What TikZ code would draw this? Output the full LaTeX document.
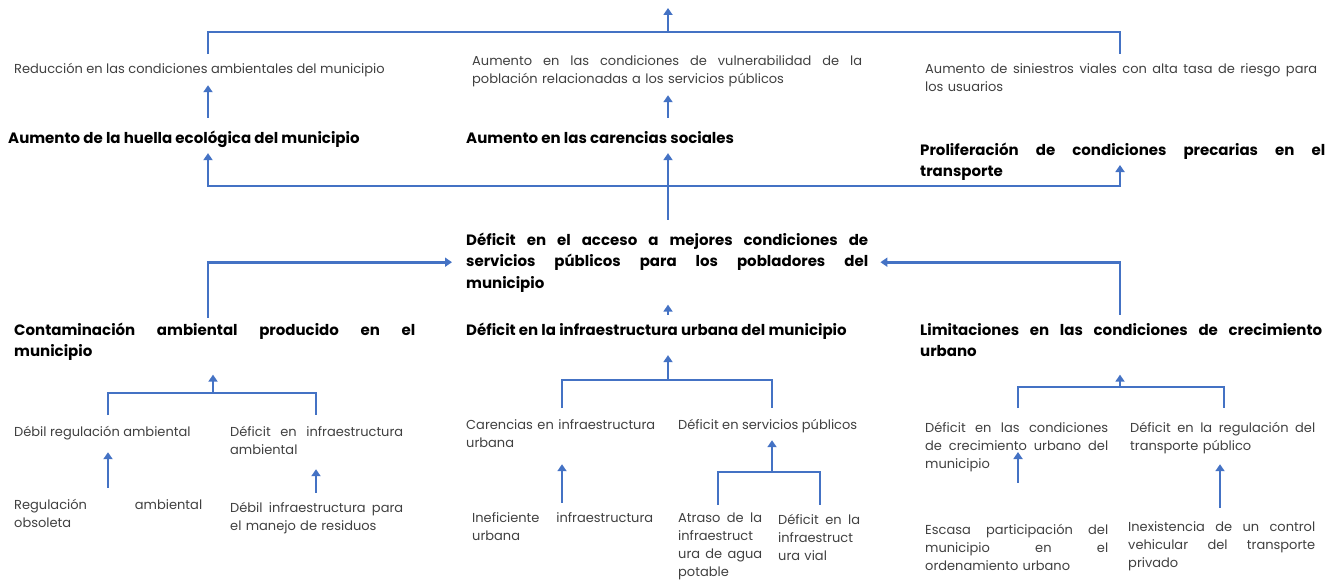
\documentclass[tikz,border=0pt]{standalone}
\usepackage{fontspec}
\setmainfont{Poppins}
\usetikzlibrary{arrows.meta}
\definecolor{linkblue}{RGB}{68,114,196}
\definecolor{txtgray}{RGB}{64,64,64}
\newcommand{\jl}[1]{{\spaceskip=0pt\xspaceskip=0pt\makebox[\hsize][s]{#1}}}
\tikzset{
  cause/.style={anchor=base west, inner sep=0pt, align=left, text=txtgray,
    font=\fontsize{13}{18}\selectfont,
    execute at begin node=\strut, execute at end node=\strut},
  causebold/.style={cause, text=black, font=\fontsize{15}{21.5}\selectfont\bfseries},
  link/.style={draw=linkblue, line width=2.8pt},
  arr/.style={link, -{Triangle[width=9pt,length=7pt]}},
}
\begin{document}
\begin{tikzpicture}[x=1pt, y=-1pt]
    \useasboundingbox (0,0) rectangle (1333,583);

    % 1. efectos (fila superior)
    \node[cause] (reduc) at (14,74) {Reducción en las condiciones ambientales del municipio};
    \node[cause, text width=390pt] (vuln) at (472,66) {\jl{Aumento en las condiciones de vulnerabilidad de la}\\población relacionadas a los servicios públicos};
    \node[cause, text width=392pt] (sini) at (925,74) {\jl{Aumento de siniestros viales con alta tasa de riesgo para}\\los usuarios};

    \node[causebold] (huella) at (8,143) {Aumento de la huella ecológica del municipio};
    \node[causebold] (carsoc) at (466,143) {Aumento en las carencias sociales};
    \node[causebold, text width=405pt] (prolif) at (920,155) {\jl{Proliferación de condiciones precarias en el}\\transporte};

    % 2. problema central
    \node[causebold, text width=402pt] (central) at (466,245) {\jl{Déficit en el acceso a mejores condiciones de}\\\jl{servicios públicos para los pobladores del}\\municipio};

    % 3. causas directas
    \node[causebold, text width=401pt] (contam) at (14,335) {\jl{Contaminación ambiental producido en el}\\municipio};
    \node[causebold] (infra) at (466,335) {Déficit en la infraestructura urbana del municipio};
    \node[causebold, text width=402pt] (limit) at (920,335) {\jl{Limitaciones en las condiciones de crecimiento}\\urbano};

    % 4. causas indirectas
    \node[cause] (dreg) at (14,436) {Débil regulación ambiental};
    \node[cause, text width=173pt] (dinf) at (230,436) {\jl{Déficit en infraestructura}\\ambiental};
    \node[cause, text width=189pt] (caren) at (466,429) {\jl{Carencias en infraestructura}\\urbana};
    \node[cause] (dserv) at (678,429) {Déficit en servicios públicos};
    \node[cause, text width=183pt] (dcrec) at (925,432) {\jl{Déficit en las condiciones}\\\jl{de crecimiento urbano del}\\municipio};
    \node[cause, text width=185pt] (dtrans) at (1130,432) {\jl{Déficit en la regulación del}\\transporte público};

    % 5. causas de fondo
    \node[cause, text width=188pt] (regobs) at (14,509) {\jl{Regulación ambiental}\\obsoleta};
    \node[cause, text width=173pt] (debinf) at (230,512) {\jl{Débil infraestructura para}\\el manejo de residuos};
    \node[cause, text width=181pt] (inef) at (472,522) {\jl{Ineficiente infraestructura}\\urbana};
    \node[cause, text width=84pt] (atraso) at (678,522) {\jl{Atraso de la}\\\jl{infraestruct}\\\jl{ura de agua}\\potable};
    \node[cause, text width=82pt] (dvial) at (778,524) {\jl{Déficit en la}\\\jl{infraestruct}\\ura vial};
    \node[cause, text width=183pt] (escasa) at (925,534) {\jl{Escasa participación del}\\\jl{municipio en el}\\ordenamiento urbano};
    \node[cause, text width=187pt] (inex) at (1128,531) {\jl{Inexistencia de un control}\\\jl{vehicular del transporte}\\privado};

    % 6. puntos de union y columnas
    \coordinate (top) at (668,8);
    \coordinate (busA) at (668,32);
    \coordinate (busB) at (668,186);
    \coordinate (jL) at (213,393);
    \coordinate (jM) at (668,380);
    \coordinate (jR) at (1120,387);
    \coordinate (jS) at (772,472);
    \coordinate (xL) at (208,0);
    \coordinate (xR) at (1120,0);
    \coordinate (xa) at (108,0);
    \coordinate (xb) at (316,0);
    \coordinate (xc) at (562,0);
    \coordinate (xd) at (1018,0);
    \coordinate (xe) at (1224,0);
    \coordinate (xf) at (718,0);
    \coordinate (xg) at (820,0);
    \coordinate (xh) at (1220,0);

    % 7. flechas de los efectos
    \draw[link, shorten <=7pt, shorten >=7pt] (reduc.north -| xL) |- (busA) -| (sini.north -| xR);
    \draw[arr] (busA) -- (top);
    \draw[arr, shorten <=10pt, shorten >=5.6pt] (huella.north -| xL) -- (reduc.south -| xL);
    \draw[arr, shorten <=10pt, shorten >=5.6pt] (carsoc.north -| busA) -- (vuln.south -| busA);
    \draw[arr, shorten >=3.5pt] (busB) -| (huella.south -| xL);
    \draw[arr, shorten >=10pt] (busB) -| (prolif.base -| xR);
    \draw[arr, shorten <=10pt, shorten >=3.5pt] (central.north -| busB) -- (carsoc.south -| busB);

    % 8. flechas hacia el problema central
    \draw[arr, shorten <=2pt, shorten >=14pt] (contam.north -| xL) |- (central.west);
    \draw[arr, shorten <=5pt, shorten >=12pt] (limit.north -| xR) |- (central.east);
    \draw[arr, shorten <=5pt, shorten >=10pt] (infra.north -| busB) -- (central.south -| busB);

    % 9. llaves de las causas
    \draw[link, shorten <=8pt, shorten >=8pt] (dreg.north -| xa) |- (jL) -| (dinf.north -| xb);
    \draw[arr, shorten >=11.5pt] (jL) -- (contam.south -| jL);
    \draw[link, shorten <=8pt, shorten >=8pt] (caren.north -| xc) |- (jM) -| (dserv.north -| jS);
    \draw[arr, shorten >=13.5pt] (jM) -- (infra.south -| jM);
    \draw[link, shorten <=11pt, shorten >=11pt] (dcrec.north -| xd) |- (jR) -| (dtrans.north -| xe);
    \draw[arr, shorten >=11.5pt] (jR) -- (limit.south -| jR);

    % 10. flechas de las causas de fondo
    \draw[arr, shorten <=8.4pt, shorten >=10.6pt] (regobs.north -| xa) -- (dreg.south -| xa);
    \draw[arr, shorten <=6.4pt, shorten >=9.6pt] (debinf.north -| xb) -- (dinf.south -| xb);
    \draw[arr, shorten <=6.4pt, shorten >=11.6pt] (inef.north -| xc) -- (caren.south -| xc);
    \draw[link, shorten <=4.4pt, shorten >=6.4pt] (atraso.north -| xf) |- (jS) -| (dvial.north -| xg);
    \draw[arr, shorten >=5.6pt] (jS) -- (dserv.south -| jS);
    \draw[arr, shorten <=38.4pt, shorten >=20pt] (escasa.north -| xd) -- (dcrec.base -| xd);
    \draw[arr, shorten <=10.4pt, shorten >=8.6pt] (inex.north -| xh) -- (dtrans.south -| xh);

\end{tikzpicture}
\end{document}
